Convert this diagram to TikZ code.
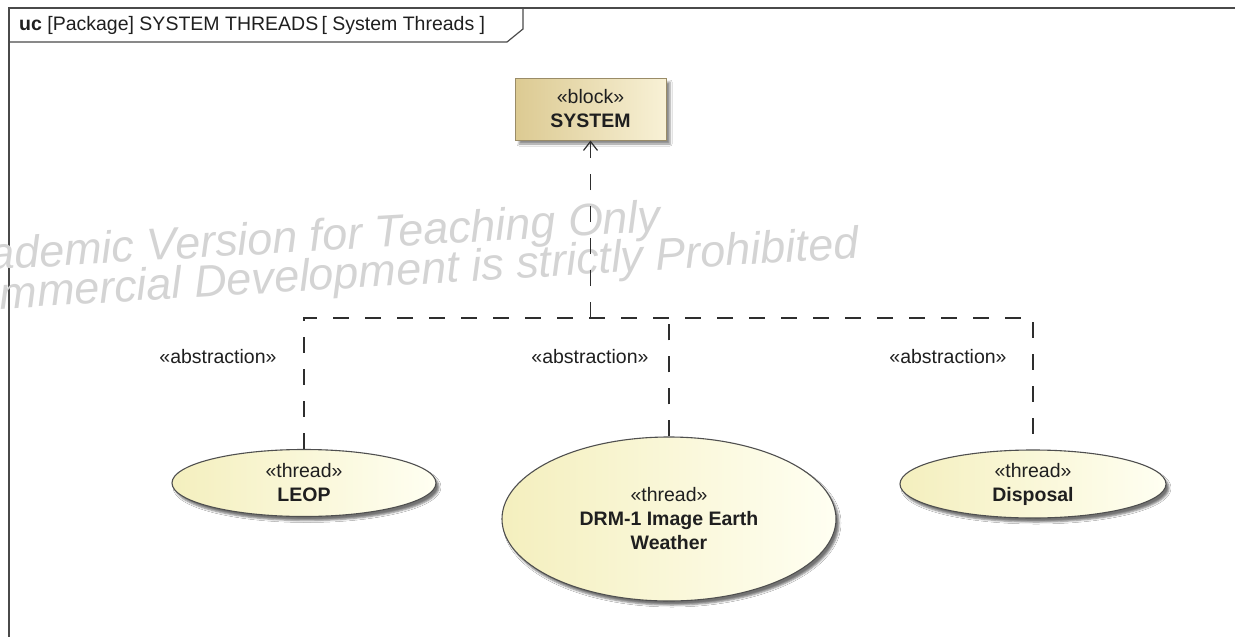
\documentclass[tikz,border=0pt]{standalone}
\usepackage{fontspec}
\setmainfont{Liberation Sans}
\usetikzlibrary{arrows.meta,shapes.geometric,shadows.blur}

\definecolor{framecol}{HTML}{4A4A4A}
\definecolor{linecol}{HTML}{2E2E2E}
\definecolor{blockdark}{HTML}{DCCA92}
\definecolor{blocklight}{HTML}{F8F1D6}
\definecolor{blockedge}{HTML}{9A8C68}
\definecolor{usedark}{HTML}{F4EFBE}
\definecolor{uselight}{HTML}{FFFFF2}
\definecolor{useedge}{HTML}{4F4F4F}
\definecolor{marktext}{HTML}{D4D4D4}

\tikzset{
  txt/.style={font=\fontsize{19.5}{24}\selectfont, text=black!88, align=center},
  blockbox/.style={txt, draw=blockedge, line width=1pt,
    left color=blockdark, right color=blocklight,
    minimum width=151pt, minimum height=62pt, inner sep=0pt,
    blur shadow={shadow xshift=4pt, shadow yshift=-4pt, shadow opacity=45,
      shadow blur steps=4, shadow blur radius=2pt}},
  usecase/.style={txt, ellipse, draw=useedge, line width=1.1pt,
    left color=usedark, right color=uselight, inner sep=0pt,
    blur shadow={shadow xshift=3pt, shadow yshift=-4pt, shadow opacity=55,
      shadow blur steps=4, shadow blur radius=2pt}},
  dep/.style={draw=linecol, line width=1.2pt, dash pattern=on 16pt off 16pt},
  steretag/.style={txt},
  watermark/.style={font=\fontsize{45}{45}\selectfont\itshape, text=marktext,
    anchor=base west, inner sep=0pt}
}

\begin{document}
\begin{tikzpicture}[x=1pt, y=-1pt]
  \useasboundingbox (0,0) rectangle (1235,637);
  \fill[white] (0,0) rectangle (1235,637);
  \clip (0,0) rectangle (1235,637);

  % diagram frame with its name tab
  \draw[framecol, line width=1.5pt] (9,640) -- (9,8) -- (1240,8);
  \draw[framecol, line width=1.2pt] (9,42) -- (507,42) -- (523,29) -- (523,8);
  \node[txt, anchor=west, inner sep=0pt] (title) at (19,25)
    {\textbf{uc} [Package] SYSTEM THREADS\,[ System Threads ]};

  % evaluation watermark
  \node[watermark, rotate=3.3] (wm1) at (-62,273) {Academic Version for Teaching Only};
  \node[watermark, rotate=3.4] (wm2) at (-57,312.5) {Commercial Development is strictly Prohibited};

  % block and threads
  \node[blockbox] (sys) at (590.5,109) {«block»\\\textbf{SYSTEM}};
  \node[usecase, minimum width=264pt, minimum height=67pt] (leop) at (304,483)
    {«thread»\\\textbf{LEOP}};
  \node[usecase, minimum width=334pt, minimum height=164pt] (drm) at (669,519)
    {«thread»\\\textbf{DRM-1 Image Earth}\\\textbf{Weather}};
  \node[usecase, minimum width=266pt, minimum height=68pt] (disp) at (1033,484)
    {«thread»\\\textbf{Disposal}};

  % abstraction dependencies
  \coordinate (j) at (sys.south |- 0,318);
  \draw[dep] (leop.north) -- (leop.north |- j) -- (disp.north |- j) -- (disp.north);
  \draw[dep] (drm.north) -- (drm.north |- j);
  \draw[dep, -{Straight Barb[length=9pt, width=14pt, line width=1.2pt]}]
    (j) -- (sys.south);

  \node[steretag] (ab1) at (218,357) {«abstraction»};
  \node[steretag] (ab2) at (590,357) {«abstraction»};
  \node[steretag] (ab3) at (948,357) {«abstraction»};
\end{tikzpicture}
\end{document}
